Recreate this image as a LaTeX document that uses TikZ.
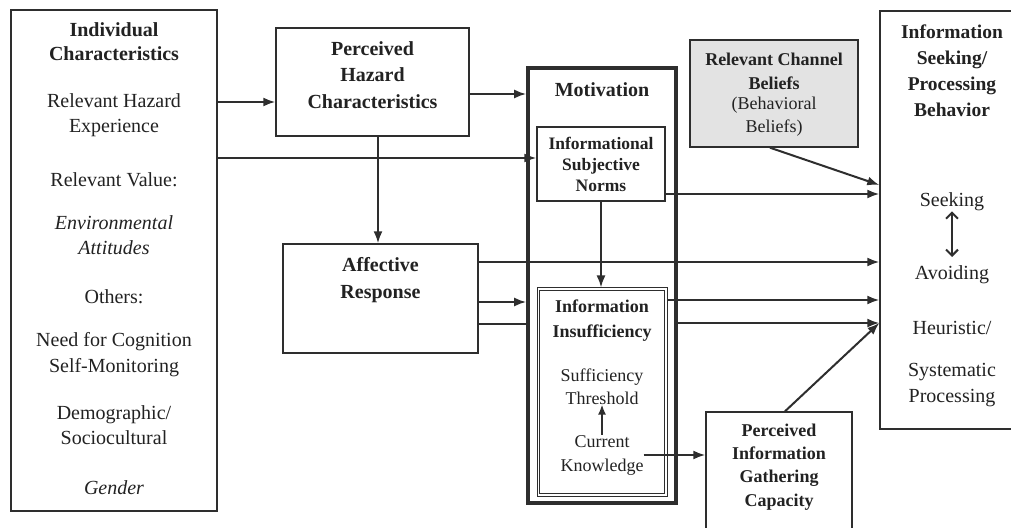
\documentclass[tikz,border=0pt]{standalone}
\usepackage{fontspec}
\setmainfont{Liberation Serif}
\usetikzlibrary{arrows.meta}
\definecolor{linec}{HTML}{2E2E2E}
\definecolor{textc}{HTML}{222222}
\definecolor{grayfill}{HTML}{E3E3E3}
\begin{document}
\begin{tikzpicture}[x=1bp,y=-1bp,
  box/.style={draw=linec, line width=1.4bp, inner sep=0pt},
  txt/.style={align=center, inner sep=0pt, text=textc},
  fA/.style={font=\fontsize{20bp}{25bp}\selectfont},
  arr/.style={draw=linec, line width=2bp, -{Latex[length=12bp,width=9bp]}},
  ln/.style={draw=linec, line width=2bp},
  darr/.style={draw=linec, line width=2bp, {Straight Barb[length=6bp,width=12bp]}-{Straight Barb[length=6bp,width=12bp]}}
]
\useasboundingbox (0,0) rectangle (1011,528);
\clip (0,0) rectangle (1011,528);
\fill[white] (0,0) rectangle (1011,528);

% boxes
\node[box, minimum width=206bp, minimum height=501bp] (ind) at (114,260.5) {};
\node[box, minimum width=193bp, minimum height=108bp] (ph) at (372.5,82) {};
\node[box, minimum width=195bp, minimum height=109bp] (aff) at (380.5,298.5) {};
\node[box, line width=3.6bp, minimum width=148bp, minimum height=435bp] (mot) at (602,285.5) {};
\node[box, minimum width=128bp, minimum height=74bp] (isn) at (601,164) {};
\node[box, line width=1bp, minimum width=130bp, minimum height=208bp] (ii) at (602,392) {};
\draw[draw=linec, line width=0.8bp] ([shift={(3,3)}]ii.north west) rectangle ([shift={(-3,-3)}]ii.south east);
\node[box, fill=grayfill, minimum width=168bp, minimum height=107bp] (rcb) at (774,93.5) {};
\node[box, minimum width=133bp, minimum height=418bp] (isb) at (946.5,220) {};
\node[box, minimum width=146bp, minimum height=123bp] (pigc) at (779,473.5) {};

% left box texts
\node[txt, font=\fontsize{20bp}{24bp}\selectfont\bfseries] (indt) at (114,42) {Individual\\Characteristics};
\node[txt, fA] (rhe) at (114,115.5) {Relevant Hazard\\Experience};
\node[txt, fA] (rv) at (114,180) {Relevant Value:};
\node[txt, font=\fontsize{20bp}{25bp}\selectfont\itshape] (env) at (114,235.5) {Environmental\\Attitudes};
\node[txt, fA] (oth) at (114,297) {Others:};
\node[txt, font=\fontsize{20bp}{26bp}\selectfont] (nfc) at (114,355) {Need for Cognition\\Self-Monitoring};
\node[txt, fA] (dem) at (114,425.5) {Demographic/\\Sociocultural};
\node[txt, font=\fontsize{20bp}{25bp}\selectfont\itshape] (gen) at (114,488) {Gender};

% perceived hazard & affective
\node[txt, font=\fontsize{20bp}{26.5bp}\selectfont\bfseries] (pht) at (372.5,75) {Perceived\\Hazard\\Characteristics};
\node[txt, font=\fontsize{20bp}{27bp}\selectfont\bfseries] (afft) at (380.5,280.5) {Affective\\Response};

% motivation
\node[txt, font=\fontsize{20bp}{25bp}\selectfont\bfseries] (mott) at (602,90) {Motivation};
\node[txt, font=\fontsize{17.5bp}{21bp}\selectfont\bfseries] (isnt) at (601,164) {Informational\\Subjective\\Norms};
\node[txt, font=\fontsize{18bp}{25bp}\selectfont\bfseries] (iit) at (602,320.5) {Information\\Insufficiency};
\node[txt, font=\fontsize{18bp}{23bp}\selectfont] (thr) at (602,386.5) {Sufficiency\\Threshold};
\node[txt, font=\fontsize{18bp}{24bp}\selectfont] (cur) at (602,455) {Current\\Knowledge};

% channel beliefs
\node[txt, font=\fontsize{18bp}{24bp}\selectfont\bfseries] (rcbt) at (774,71) {Relevant Channel\\Beliefs};
\node[txt, font=\fontsize{18bp}{23bp}\selectfont] (rcbb) at (774,116.5) {(Behavioral\\Beliefs)};

% info seeking box
\node[txt, font=\fontsize{19.5bp}{26bp}\selectfont\bfseries] (isbt) at (952,71) {Information\\Seeking/\\Processing\\Behavior};
\node[txt, fA] (seek) at (952,202) {Seeking};
\node[txt, fA] (avoid) at (952,275) {Avoiding};
\node[txt, fA] (heur) at (952,328) {Heuristic/};
\node[txt, font=\fontsize{20bp}{26bp}\selectfont] (sys) at (952,385) {Systematic\\Processing};

% pigc
\node[txt, font=\fontsize{18bp}{23.3bp}\selectfont\bfseries] (pigct) at (779,467) {Perceived\\Information\\Gathering\\Capacity};

% connectors
\draw[arr] (ind.east |- 0,102) -- (ph.west |- 0,102);
\draw[arr] (ind.east |- 0,158) -- (isn.west |- 0,158);
\draw[arr] (ph.east |- 0,94) -- (mot.west |- 0,94);
\draw[arr] (ph.south -| 378,0) -- (aff.north -| 378,0);
\draw[arr] (aff.east |- 0,262) -- (isb.west |- 0,262);
\draw[arr] (aff.east |- 0,302) -- (mot.west |- 0,302);
\draw[ln] (aff.east |- 0,324) -- (mot.west |- 0,324);
\draw[arr] (isn.east |- 0,194) -- (isb.west |- 0,194);
\draw[arr] (isn.south) -- (isn.south |- ii.north);
\draw[arr] (ii.east |- 0,300) -- (isb.west |- 0,300);
\draw[arr] (mot.east |- 0,323) -- (isb.west |- 0,323);
\draw[arr] (rcb.south -| 770,0) -- (isb.west |- 0,185);
\draw[arr] (pigc.north -| 785,0) -- (isb.west |- 0,323);
\draw[arr] (cur.east |- 0,455) -- (pigc.west |- 0,455);
\draw[arr, line width=1.6bp, -{Latex[length=10bp,width=8bp]}] (cur.north) -- (thr.south);
\draw[darr] (seek.south) -- (avoid.north |- 0,257);
\end{tikzpicture}
\end{document}
